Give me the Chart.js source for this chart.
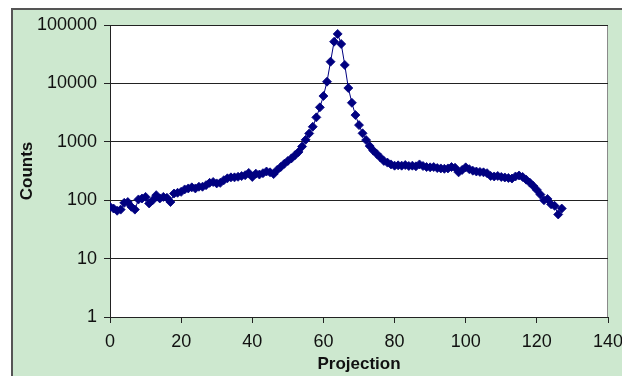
<!DOCTYPE html>
<html>
<head>
<meta charset="utf-8">
<script src="https://cdn.jsdelivr.net/npm/chart.js@4"></script>
<style>
  html, body { margin: 0; padding: 0; background: #ffffff; }
  #c { display: block; }
</style>
</head>
<body>
<canvas id="c" width="622" height="376"></canvas>
<script>
const projection = [0,1,2,3,4,5,6,7,8,9,10,11,12,13,14,15,16,17,18,19,20,21,22,23,24,25,26,27,28,29,30,31,32,33,34,35,36,37,38,39,40,41,42,43,44,45,46,47,48,49,50,51,52,53,54,55,56,57,58,59,60,61,62,63,64,65,66,67,68,69,70,71,72,73,74,75,76,77,78,79,80,81,82,83,84,85,86,87,88,89,90,91,92,93,94,95,96,97,98,99,100,101,102,103,104,105,106,107,108,109,110,111,112,113,114,115,116,117,118,119,120,121,122,123,124,125,126,127];
const counts = [77,72,66,69,90,93,77,69,103,107,114,88,100,122,107,114,110,93,130,134,139,153,159,166,159,170,170,181,198,205,194,198,220,237,246,246,252,259,268,293,250,285,275,290,310,300,280,330,370,420,470,520,590,670,830,1080,1390,1810,2620,3890,6080,10700,23500,51800,70300,47300,20700,8340,4660,2870,1930,1400,1070,845,707,620,540,470,440,410,390,395,390,400,385,390,380,410,385,370,365,370,355,350,345,350,370,360,300,330,365,340,320,310,305,300,290,260,255,260,250,245,240,235,255,265,250,225,200,175,150,125,100,105,85,80,57,72];
const yTicks = [1, 10, 100, 1000, 10000, 100000];
const xTickStep = 20;
const xMin = 0, xMax = 140;
const xTitle = 'Projection';
const yTitle = 'Counts';

const points = projection.map((p, i) => ({ x: p, y: counts[i] }));

const framePlugin = {
  id: 'frame',
  beforeDraw(chart) {
    const ctx = chart.ctx;
    const a = chart.chartArea;
    ctx.save();
    ctx.fillStyle = '#cde8cf';
    ctx.fillRect(11, 8, 700, 400);
    ctx.strokeStyle = '#555555';
    ctx.lineWidth = 2;
    ctx.strokeRect(12, 9, 700, 400);
    ctx.fillStyle = '#ffffff';
    ctx.fillRect(a.left, a.top, a.right - a.left, a.bottom - a.top);
    ctx.strokeStyle = '#8a8a8a';
    ctx.lineWidth = 1;
    ctx.strokeRect(a.left + 0.5, a.top + 0.5, a.right - a.left - 1, a.bottom - a.top);
    ctx.restore();
  }
};

const font = { family: '"Liberation Sans", Arial, sans-serif', size: 18 };
const titleFont = { family: '"Liberation Sans", Arial, sans-serif', size: 17, weight: 'bold' };

new Chart(document.getElementById('c'), {
  type: 'line',
  data: {
    datasets: [{
      data: points,
      borderColor: '#000080',
      borderWidth: 1,
      backgroundColor: '#000080',
      pointStyle: 'rectRot',
      pointRadius: 4.5,
      pointBorderWidth: 0.8,
      pointBorderColor: '#000080',
      pointBackgroundColor: '#000080',
      tension: 0
    }]
  },
  options: {
    responsive: false,
    animation: false,
    layout: { padding: { top: 25, right: 14, left: 0, bottom: 0 } },
    plugins: { legend: { display: false }, tooltip: { enabled: false } },
    scales: {
      x: {
        type: 'linear',
        min: xMin,
        max: xMax,
        afterFit(scale) { scale.height = 59; scale.paddingLeft = 0; scale.paddingRight = 0; },
        ticks: { stepSize: xTickStep, color: '#111', font: font, padding: 8, maxRotation: 0 },
        grid: { drawOnChartArea: false, drawTicks: true, tickLength: 6, color: '#222' },
        border: { color: '#222', width: 1 },
        title: { display: true, text: xTitle, color: '#111', font: titleFont, padding: { top: 0, bottom: 1 } }
      },
      y: {
        type: 'logarithmic',
        min: 1,
        max: 100000,
        afterFit(scale) { scale.width = 110; scale.paddingTop = 0; scale.paddingBottom = 0; },
        afterBuildTicks(scale) { scale.ticks = yTicks.map(v => ({ value: v })); },
        ticks: { color: '#111', font: font, padding: 7, callback: v => String(v) },
        grid: { color: '#222', lineWidth: 1, tickLength: 6 },
        border: { color: '#222', width: 1 },
        title: { display: true, text: yTitle, color: '#111', font: titleFont, padding: { top: 17, bottom: 0 } }
      }
    }
  },
  plugins: [framePlugin]
});
</script>
</body>
</html>
